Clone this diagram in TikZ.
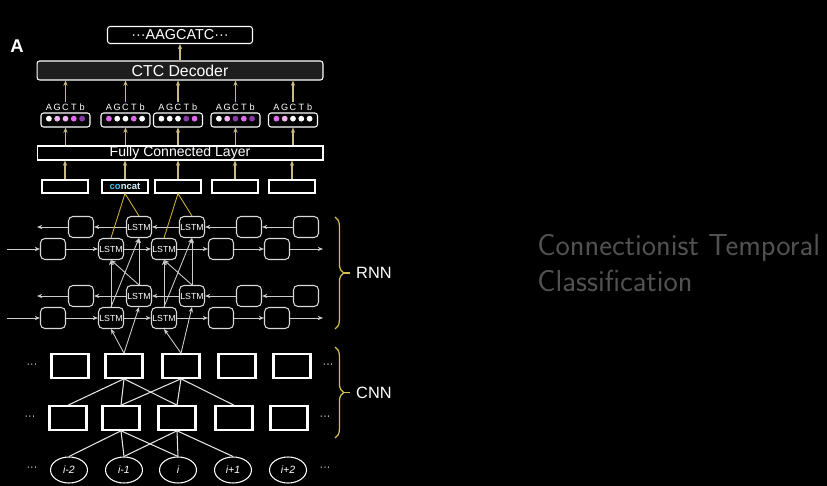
\documentclass[tikz,border=0pt]{standalone}
\usepackage{fontspec}
\setmainfont{Liberation Sans}
\usetikzlibrary{arrows.meta,decorations.pathreplacing,shapes.geometric}

\definecolor{linkc}{RGB}{200,186,130}
\definecolor{catc}{RGB}{205,175,55}
\definecolor{bracec}{RGB}{215,190,80}
\definecolor{ctcfill}{RGB}{30,30,30}
\definecolor{ctcgray}{RGB}{82,82,82}
\definecolor{dl}{RGB}{240,180,240}
\definecolor{dm}{RGB}{225,105,235}
\definecolor{dd}{RGB}{135,60,165}

\newcommand{\pdot}[1]{\makebox[0.166cm]{\tikz[baseline=-0.6ex]\fill[#1] (0,0) circle (1.65pt);}}
\newcommand{\dotcell}[5]{\pdot{#1}\pdot{#2}\pdot{#3}\pdot{#4}\pdot{#5}}
\newcommand{\agctb}{\makebox[0.166cm]{A}\makebox[0.166cm]{G}\makebox[0.166cm]{C}\makebox[0.166cm]{T}\makebox[0.166cm]{b}}

\begin{document}
\begin{tikzpicture}[x=0.02cm, y=-0.02cm, >={Stealth[length=3pt,width=2.4pt]},
  every node/.style={text=white},
  frame/.style={draw=white, rounded corners=1.5pt, line width=0.6pt, inner sep=0pt, fill=black},
  probbox/.style={frame, minimum width=0.98cm, minimum height=0.28cm},
  catbox/.style={draw=white, line width=0.6pt, fill=black, minimum width=0.92cm, minimum height=0.26cm, inner sep=0pt, font=\fontsize{5.4}{5.4}\selectfont\bfseries},
  cell/.style={draw=white!85!black, line width=0.6pt, rounded corners=2.5pt, fill=black, minimum width=0.5cm, minimum height=0.42cm, inner sep=0pt, font=\fontsize{5}{5}\selectfont},
  conv/.style={draw=white, line width=1.2pt, fill=black, minimum width=0.74cm, minimum height=0.47cm, inner sep=0pt},
  base/.style={draw=white, line width=0.6pt, ellipse, fill=black, minimum width=0.74cm, minimum height=0.52cm, inner sep=0pt, font=\fontsize{6}{6}\selectfont\itshape},
  more/.style={font=\fontsize{6}{6}\selectfont, inner sep=0pt},
  up/.style={->, draw=linkc, line width=0.6pt},
  flow/.style={->, draw=white!80!black, line width=0.5pt},
  tie/.style={draw=catc, line width=0.5pt},
  wire/.style={draw=white!90!black, line width=0.6pt},
  bracket/.style={decorate, decoration={brace, amplitude=5pt}, draw=bracec, line width=0.7pt},
  side/.style={anchor=west, font=\fontsize{9.3}{10}\selectfont},
]
\fill[black] (0,0) rectangle (827,486);
\useasboundingbox (0,0) rectangle (827,486);

% top: decoder and output
\node[font=\fontsize{10.5}{12}\selectfont\bfseries] (tag) at (17,46) {A};
\node[frame, minimum width=2.9cm, minimum height=0.34cm, font=\fontsize{8.2}{9}\selectfont] (seq) at (180,35) {···AAGCATC···};
\node[frame, fill=ctcfill, minimum width=5.72cm, minimum height=0.38cm, font=\fontsize{9}{10}\selectfont] (ctc) at (180,70.5) {CTC Decoder};

% per-step probabilities
\node[font=\fontsize{5.2}{5}\selectfont, inner sep=1pt] (ab1) at (65.5,107) {\agctb};
\node[font=\fontsize{5.2}{5}\selectfont, inner sep=1pt] (ab2) at (125.5,107) {\agctb};
\node[font=\fontsize{5.2}{5}\selectfont, inner sep=1pt] (ab3) at (178,107) {\agctb};
\node[font=\fontsize{5.2}{5}\selectfont, inner sep=1pt] (ab4) at (235.5,107) {\agctb};
\node[font=\fontsize{5.2}{5}\selectfont, inner sep=1pt] (ab5) at (293,107) {\agctb};
\node[probbox] (sm1) at (65.5,120) {\dotcell{white}{dl}{dl}{dm}{dd}};
\node[probbox] (sm2) at (125.5,120) {\dotcell{dm}{white}{white}{dm}{white}};
\node[probbox] (sm3) at (178,120) {\dotcell{white}{white}{white}{dd}{dm}};
\node[probbox] (sm4) at (235.5,120) {\dotcell{white}{dl}{dd}{dm}{dd}};
\node[probbox] (sm5) at (293,120) {\dotcell{dm}{dl}{white}{white}{white}};

\node[draw=white, line width=0.6pt, fill=black, minimum width=5.72cm, minimum height=0.28cm, inner sep=0pt, font=\fontsize{8}{8}\selectfont] (fc) at (180,153) {Fully Connected Layer};

\node[catbox] (cc1) at (65,186.5) {};
\node[catbox] (cc2) at (125,186.5) {\textcolor{cyan!75!white}{co}\textcolor{white!85!cyan}{ncat}};
\node[catbox] (cc3) at (178,186.5) {};
\node[catbox] (cc4) at (235,186.5) {};
\node[catbox] (cc5) at (292,186.5) {};

\draw[up] (ctc) -- (seq);
\draw[up] (ab1) -- (ab1 |- ctc.south);
\draw[up] (ab2) -- (ab2 |- ctc.south);
\draw[up] (ab3) -- (ab3 |- ctc.south);
\draw[up] (ab4) -- (ab4 |- ctc.south);
\draw[up] (ab5) -- (ab5 |- ctc.south);
\draw[up] (fc.north -| sm1) -- (sm1);
\draw[up] (fc.north -| sm2) -- (sm2);
\draw[up] (fc.north -| sm3) -- (sm3);
\draw[up] (fc.north -| sm4) -- (sm4);
\draw[up] (fc.north -| sm5) -- (sm5);
\draw[up] (cc1) -- (cc1 |- fc.south);
\draw[up] (cc2) -- (cc2 |- fc.south);
\draw[up] (cc3) -- (cc3 |- fc.south);
\draw[up] (cc4) -- (cc4 |- fc.south);
\draw[up] (cc5) -- (cc5 |- fc.south);

% RNN, upper layer
\node[cell] (ub1) at (81,227) {};
\node[cell] (ub2) at (139,227) {LSTM};
\node[cell] (ub3) at (192,227) {LSTM};
\node[cell] (ub4) at (249,227) {};
\node[cell] (ub5) at (306,227) {};
\node[cell] (uf1) at (53,249) {};
\node[cell] (uf2) at (111,249) {LSTM};
\node[cell] (uf3) at (164,249) {LSTM};
\node[cell] (uf4) at (221,249) {};
\node[cell] (uf5) at (277,249) {};
% RNN, lower layer
\node[cell] (lb1) at (81,296) {};
\node[cell] (lb2) at (139,296) {LSTM};
\node[cell] (lb3) at (192,296) {LSTM};
\node[cell] (lb4) at (249,296) {};
\node[cell] (lb5) at (306,296) {};
\node[cell] (lf1) at (53,318) {};
\node[cell] (lf2) at (111,318) {LSTM};
\node[cell] (lf3) at (164,318) {LSTM};
\node[cell] (lf4) at (221,318) {};
\node[cell] (lf5) at (277,318) {};

\coordinate (ufin) at (7,249);
\coordinate (ufout) at (323,249);
\coordinate (ubout) at (37,227);
\coordinate (lfin) at (7,318);
\coordinate (lfout) at (323,318);
\coordinate (lbout) at (37,296);

\draw[flow] (ufin) -- (uf1);
\draw[flow] (uf1) -- (uf2);
\draw[flow] (uf2) -- (uf3);
\draw[flow] (uf3) -- (uf4);
\draw[flow] (uf4) -- (uf5);
\draw[flow] (uf5) -- (ufout);
\draw[flow] (ub5) -- (ub4);
\draw[flow] (ub4) -- (ub3);
\draw[flow] (ub3) -- (ub2);
\draw[flow] (ub2) -- (ub1);
\draw[flow] (ub1) -- (ubout);
\draw[flow] (lfin) -- (lf1);
\draw[flow] (lf1) -- (lf2);
\draw[flow] (lf2) -- (lf3);
\draw[flow] (lf3) -- (lf4);
\draw[flow] (lf4) -- (lf5);
\draw[flow] (lf5) -- (lfout);
\draw[flow] (lb5) -- (lb4);
\draw[flow] (lb4) -- (lb3);
\draw[flow] (lb3) -- (lb2);
\draw[flow] (lb2) -- (lb1);
\draw[flow] (lb1) -- (lbout);

\draw[flow] (lf2.north) -- (uf2.south);
\draw[flow] (lf2.north) -- (ub2.south);
\draw[flow] (lb2.north) -- (ub2.south);
\draw[flow] (lb2.north) -- (uf2.south);
\draw[flow] (lf3.north) -- (uf3.south);
\draw[flow] (lf3.north) -- (ub3.south);
\draw[flow] (lb3.north) -- (ub3.south);
\draw[flow] (lb3.north) -- (uf3.south);

\draw[tie] (cc2.south) -- (uf2.north);
\draw[tie] (cc2.south) -- (ub2.north);
\draw[tie] (cc3.south) -- (uf3.north);
\draw[tie] (cc3.south) -- (ub3.north);

% CNN
\node[conv] (ca1) at (70,366) {};
\node[conv] (ca2) at (124,366) {};
\node[conv] (ca3) at (181,366) {};
\node[conv] (ca4) at (237,366) {};
\node[conv] (ca5) at (292,366) {};
\node[conv] (cb1) at (68,418) {};
\node[conv] (cb2) at (121,418) {};
\node[conv] (cb3) at (177,418) {};
\node[conv] (cb4) at (234,418) {};
\node[conv] (cb5) at (289,418) {};
\node[base] (x1) at (69,470) {i-2};
\node[base] (x2) at (124,470) {i-1};
\node[base] (x3) at (178,470) {i};
\node[base] (x4) at (233,470) {i+1};
\node[base] (x5) at (288,470) {i+2};
\node[more] (ma1) at (32,366) {···};
\node[more] (ma2) at (328,366) {···};
\node[more] (mb1) at (30,418) {···};
\node[more] (mb2) at (325,418) {···};
\node[more] (mx1) at (32,469) {···};
\node[more] (mx2) at (325,469) {···};

\draw[flow] (ca2.north) -- (lf2.south);
\draw[flow] (ca2.north) -- (lb2.south);
\draw[flow] (ca3.north) -- (lf3.south);
\draw[flow] (ca3.north) -- (lb3.south);

\draw[wire] (ca2.south) -- (cb1.north);
\draw[wire] (ca2.south) -- (cb2.north);
\draw[wire] (ca2.south) -- (cb3.north);
\draw[wire] (ca3.south) -- (cb2.north);
\draw[wire] (ca3.south) -- (cb3.north);
\draw[wire] (ca3.south) -- (cb4.north);
\draw[wire] (cb2.south) -- (x1.north);
\draw[wire] (cb2.south) -- (x2.north);
\draw[wire] (cb2.south) -- (x3.north);
\draw[wire] (cb3.south) -- (x2.north);
\draw[wire] (cb3.south) -- (x3.north);
\draw[wire] (cb3.south) -- (x4.north);

% braces
\draw[bracket] (335,217) -- (335,329);
\coordinate (rtip) at (344,273);
\node[side] (rnn) at (350,273) {RNN};
\draw[draw=bracec, line width=0.7pt] (rtip) -- (rnn.west);
\draw[bracket] (335,347) -- (335,438);
\coordinate (ctip) at (344,392.5);
\node[side] (cnn) at (350,392.5) {CNN};
\draw[draw=bracec, line width=0.7pt] (ctip) -- (cnn.west);

% caption on the right
\node[anchor=base west, inner sep=0pt, text=ctcgray, font=\sffamily\fontsize{17.3}{20}\selectfont] (t1) at (537,255) {Connectionist Temporal};
\node[anchor=base west, inner sep=0pt, text=ctcgray, font=\sffamily\fontsize{17.3}{20}\selectfont] (t2) at (537,291.5) {Classification};
\end{tikzpicture}
\end{document}
